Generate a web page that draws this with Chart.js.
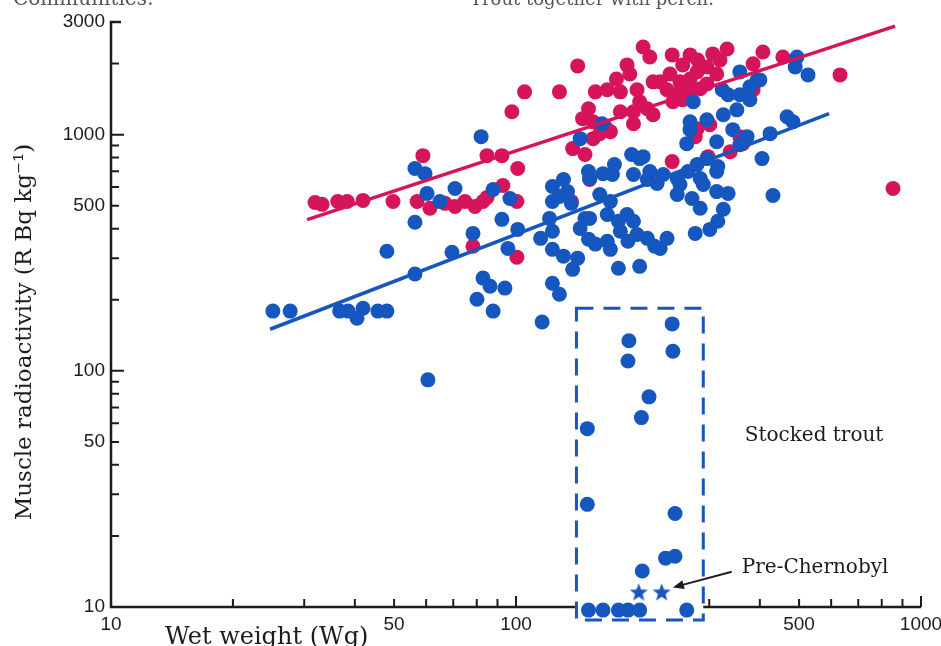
<!DOCTYPE html>
<html>
<head>
<meta charset="utf-8">
<script src="https://cdn.jsdelivr.net/npm/chart.js@4.4.1/dist/chart.umd.min.js"></script>
<style>
  body { margin: 0; background: #fff; }
  canvas { display: block; }
</style>
</head>
<body>
<canvas id="radioChart" width="941" height="646"></canvas>
<script>
// wet weight (g) / muscle radioactivity (Bq/kg)

// char / trout communities (red)
const redWeight = [31.9, 33.2, 36.3, 38.3, 41.9, 49.7, 57, 61.3, 66.8, 70.7,
  74.8, 79.2, 82.9, 84.8, 92.8, 100.5, 58.9, 84.8, 92.3, 101,
  78.3, 100.5, 97.7, 105, 128, 142, 157, 168, 177, 188,
  191, 206, 214, 181, 199, 202, 218, 151, 146, 155,
  166, 171, 181, 195, 195, 218, 138, 148, 155, 161,
  152, 137, 243, 269, 281, 306, 332, 319, 296, 280,
  258, 269, 254, 240, 227, 236, 254, 269, 285, 296,
  313, 407, 456, 385, 244, 258, 211, 385, 301, 280,
  277, 357, 363, 338, 298, 243, 631, 853];
const redActivity = [516, 507, 521, 521, 527, 521, 521, 488, 512, 497,
  521, 497, 521, 542, 609, 521, 815, 815, 815, 719,
  337, 303, 1250, 1518, 1518, 1955, 1518, 1549, 1722, 1975,
  1808, 2350, 2134, 1518, 1549, 1378, 1674, 1288, 1169, 1135,
  1081, 1030, 1250, 1250, 1112, 1214, 873, 824, 962, 1010,
  646, 521, 2177, 2177, 2072, 2198, 2306, 2072, 1936, 1844,
  1975, 1722, 1674, 1808, 1674, 1549, 1518, 1549, 1565, 1641,
  1808, 2239, 2134, 1995, 1378, 1406, 1288, 1549, 1102, 1060,
  981, 981, 916, 847, 807, 769, 1791, 592];

// communities with perch (blue)
const blueWeight = [25.1, 27.7, 36.7, 38.5, 40.5, 41.9, 45.6, 48.0, 60.6, 48.0,
  56.3, 56.3, 56.3, 59.6, 60.3, 64.9, 70.7, 82.0, 87.8, 96.6,
  92.3, 78.3, 101, 69.5, 95.5, 115, 82.9, 86.3, 93.9, 80.1,
  87.8, 116, 123, 128, 123, 131, 138, 123, 131, 134,
  123, 121, 123, 144, 148, 151, 128, 142, 161, 171,
  168, 152, 151, 157, 168, 171, 179, 188, 195, 181,
  189, 199, 211, 220, 179, 202, 164, 173, 195, 211,
  223, 137, 231, 254, 285, 290, 313, 250, 272, 285,
  313, 334, 325, 315, 301, 277, 227, 236, 431, 494,
  489, 357, 394, 378, 323, 334, 357, 378, 274, 351,
  325, 269, 296, 269, 264, 313, 343, 372, 424, 467,
  483, 405, 357, 296, 315, 280, 266, 206, 214, 250,
  526, 400, 163, 144, 152, 193, 202, 175];
const blueActivity = [179, 179, 179, 179, 167, 184, 179, 179, 91.6, 321,
  257, 426, 719, 684, 564, 521, 592, 981, 586, 537,
  438, 382, 397, 318, 330, 364, 247, 228, 224, 201,
  179, 161, 235, 211, 327, 306, 269, 604, 646, 574,
  521, 442, 390, 401, 442, 698, 547, 300, 558, 521,
  459, 442, 361, 344, 354, 327, 430, 459, 430, 390,
  354, 378, 364, 337, 272, 277, 684, 678, 678, 646,
  621, 512, 678, 615, 652, 615, 698, 558, 537, 488,
  574, 564, 483, 430, 397, 382, 330, 364, 553, 2134,
  1936, 1844, 1706, 1595, 1549, 1476, 1476, 1406, 1378, 1274,
  1214, 1135, 1157, 1050, 916, 934, 1050, 981, 1010, 1191,
  1135, 792, 907, 792, 733, 747, 698, 807, 698, 652,
  1791, 1706, 1112, 962, 652, 824, 792, 747];

// stocked trout (inside dashed box)
const stockedWeight = [243, 190, 189, 244, 213, 204, 150, 150, 247, 234, 247, 205, 151, 164, 179, 189, 202, 264];
const stockedActivity = [158, 134, 110, 121, 77.6, 63.4, 56.9, 27.2, 24.9, 16.1, 16.4, 14.2, 9.7, 9.7, 9.7, 9.7, 9.7, 9.7];
const preChernobylWeight = [201, 229];
const preChernobylActivity = [11.6, 11.6];
const stockedBoxWeight = [141, 290];
const stockedBoxActivity = [8.8, 184];

// regression lines (end points)
const redFitWeight = [30.5, 863];
const redFitActivity = [437, 2884];
const blueFitWeight = [24.7, 593];
const blueFitActivity = [150, 1227];

// axes
const xMajorTicks = [10, 50, 100, 500, 1000];
const xAllTicks = [10, 20, 30, 40, 50, 60, 70, 80, 90, 100, 200, 300, 400, 500, 600, 700, 800, 900, 1000];
const yMajorTicks = [10, 50, 100, 500, 1000, 3000];
const yAllTicks = [10, 20, 30, 40, 50, 60, 70, 80, 90, 100, 200, 300, 400, 500, 600, 700, 800, 900, 1000, 2000, 3000];

const RED = '#d5145b';
const BLUE = '#1556bf';
const INK = '#1c1c1c';

const pairs = (xs, ys) => xs.map((x, i) => ({ x: x, y: ys[i] }));

function starImage(color, size) {
  const c = document.createElement('canvas');
  c.width = c.height = size;
  const g = c.getContext('2d');
  g.fillStyle = color;
  g.beginPath();
  for (let i = 0; i < 10; i++) {
    const r = i % 2 ? size * 0.21 : size * 0.5;
    const a = -Math.PI / 2 + i * Math.PI / 5;
    const px = size / 2 + r * Math.cos(a);
    const py = size / 2 + 1 + r * Math.sin(a);
    if (i === 0) g.moveTo(px, py); else g.lineTo(px, py);
  }
  g.closePath();
  g.fill();
  return c;
}

const notes = [
  { text: 'Stocked trout', x: 367, y: 53 },
  { text: 'Pre-Chernobyl', x: 361, y: 14.6 }
];
const arrowFrom = { x: 341, y: 14.1 };
const arrowTo = { x: 244, y: 12.1 };

const frame = {
  id: 'frame',
  beforeDatasetsDraw(chart) {
    const ctx = chart.ctx;
    const xs = chart.scales.x, ys = chart.scales.y;
    const x0 = xs.getPixelForValue(10);
    const x1 = xs.getPixelForValue(1000);
    const y0 = ys.getPixelForValue(10);
    const yTop = ys.getPixelForValue(3000);
    const bx0 = xs.getPixelForValue(stockedBoxWeight[0]);
    const bx1 = xs.getPixelForValue(stockedBoxWeight[1]);
    ctx.save();
    ctx.strokeStyle = INK;
    ctx.lineWidth = 2.5;
    ctx.lineCap = 'butt';
    ctx.beginPath();
    ctx.moveTo(x0 + 10, yTop);
    ctx.lineTo(x0, yTop);
    ctx.lineTo(x0, y0);
    ctx.lineTo(bx0, y0);
    ctx.moveTo(bx1, y0);
    ctx.lineTo(x1, y0);
    ctx.stroke();

    ctx.lineWidth = 2;
    ctx.beginPath();
    yAllTicks.forEach(v => {
      if (v === 10 || v === 3000) return;
      const y = ys.getPixelForValue(v);
      const len = (v === 100 || v === 1000) ? 13 : 8;
      ctx.moveTo(x0, y);
      ctx.lineTo(x0 + len, y);
    });
    xAllTicks.forEach(v => {
      if (v === 10 || (v > stockedBoxWeight[0] && v < stockedBoxWeight[1])) return;
      const x = xs.getPixelForValue(v);
      const len = (v === 100 || v === 1000) ? 11 : 8;
      ctx.moveTo(x, y0);
      ctx.lineTo(x, y0 - len);
    });
    ctx.stroke();

    // dashed box round the stocked trout
    const by0 = ys.getPixelForValue(stockedBoxActivity[1]);
    const by1 = ys.getPixelForValue(stockedBoxActivity[0]);
    ctx.strokeStyle = BLUE;
    ctx.lineWidth = 3;
    ctx.setLineDash([17, 10]);
    ctx.strokeRect(bx0, by0, bx1 - bx0, by1 - by0);
    ctx.restore();
  },
  afterDraw(chart) {
    const ctx = chart.ctx;
    const xs = chart.scales.x, ys = chart.scales.y;
    ctx.save();
    ctx.fillStyle = INK;
    ctx.font = '20px "DejaVu Serif"';
    ctx.textBaseline = 'middle';
    ctx.textAlign = 'left';
    notes.forEach(n => {
      ctx.fillText(n.text, xs.getPixelForValue(n.x), ys.getPixelForValue(n.y));
    });

    // arrow to the pre-Chernobyl stars
    const ax0 = xs.getPixelForValue(arrowFrom.x), ay0 = ys.getPixelForValue(arrowFrom.y);
    const ax1 = xs.getPixelForValue(arrowTo.x), ay1 = ys.getPixelForValue(arrowTo.y);
    const ang = Math.atan2(ay1 - ay0, ax1 - ax0);
    ctx.strokeStyle = INK;
    ctx.lineWidth = 2;
    ctx.beginPath();
    ctx.moveTo(ax0, ay0);
    ctx.lineTo(ax1 - 8 * Math.cos(ang), ay1 - 8 * Math.sin(ang));
    ctx.stroke();
    ctx.beginPath();
    ctx.moveTo(ax1, ay1);
    ctx.lineTo(ax1 - 11 * Math.cos(ang) + 4.5 * Math.sin(ang), ay1 - 11 * Math.sin(ang) - 4.5 * Math.cos(ang));
    ctx.lineTo(ax1 - 11 * Math.cos(ang) - 4.5 * Math.sin(ang), ay1 - 11 * Math.sin(ang) + 4.5 * Math.cos(ang));
    ctx.closePath();
    ctx.fill();

    // axis titles
    ctx.font = '24px "DejaVu Serif"';
    ctx.textBaseline = 'alphabetic';
    ctx.fillText('Wet weight (Wg)', 165, 644);
    ctx.save();
    ctx.translate(31, 332);
    ctx.rotate(-Math.PI / 2);
    ctx.textAlign = 'center';
    ctx.font = '23px "DejaVu Serif"';
    ctx.fillText('Muscle radioactivity (R Bq kg\u207B\u00B9)', 0, 0);
    ctx.restore();

    // cut-off captions from above the plot
    ctx.fillStyle = '#555';
    ctx.font = '20px "DejaVu Serif"';
    ctx.fillText('Communities:', 13, 5);
    ctx.font = '18px "DejaVu Serif"';
    ctx.fillText('Trout together with perch.', 470, 5);
    ctx.restore();
  }
};

const tickFont = { family: '"Liberation Sans", Arial, sans-serif', size: 19 };

new Chart(document.getElementById('radioChart'), {
  type: 'scatter',
  data: {
    datasets: [
      {
        label: 'Regression (perch)',
        data: pairs(blueFitWeight, blueFitActivity),
        showLine: true, borderColor: BLUE, borderWidth: 3.5, pointRadius: 0, order: 1, clip: false
      },
      {
        label: 'Regression (no perch)',
        data: pairs(redFitWeight, redFitActivity),
        showLine: true, borderColor: RED, borderWidth: 3.5, pointRadius: 0, order: 2, clip: false
      },
      {
        label: 'Pre-Chernobyl',
        data: pairs(preChernobylWeight, preChernobylActivity),
        pointStyle: starImage(BLUE, 19), order: 3, clip: false
      },
      {
        label: 'Stocked trout',
        data: pairs(stockedWeight, stockedActivity),
        backgroundColor: BLUE, borderWidth: 0, pointRadius: 7.5, order: 4, clip: false
      },
      {
        label: 'With perch',
        data: pairs(blueWeight, blueActivity),
        backgroundColor: BLUE, borderWidth: 0, pointRadius: 7.5, order: 5, clip: false
      },
      {
        label: 'Without perch',
        data: pairs(redWeight, redActivity),
        backgroundColor: RED, borderWidth: 0, pointRadius: 7.5, order: 6, clip: false
      }
    ]
  },
  options: {
    responsive: false,
    devicePixelRatio: 1,
    animation: false,
    layout: { padding: { left: 0, top: 22, right: 20, bottom: 0 } },
    plugins: { legend: { display: false }, tooltip: { enabled: false } },
    scales: {
      x: {
        type: 'logarithmic',
        min: 10,
        max: 1000,
        afterFit: s => { s.height = 39; s.paddingLeft = 0; s.paddingRight = 0; },
        afterBuildTicks: s => { s.ticks = xAllTicks.map(v => ({ value: v })); },
        grid: { display: false, drawTicks: false },
        border: { display: false },
        ticks: {
          autoSkip: false,
          maxRotation: 0,
          padding: 6,
          color: INK,
          font: tickFont,
          callback: v => xMajorTicks.includes(v) ? String(v) : ''
        }
      },
      y: {
        type: 'logarithmic',
        min: 10,
        max: 3000,
        afterFit: s => { s.width = 111; s.paddingTop = 0; s.paddingBottom = 0; },
        afterBuildTicks: s => { s.ticks = yAllTicks.map(v => ({ value: v })); },
        grid: { display: false, drawTicks: false },
        border: { display: false },
        ticks: {
          autoSkip: false,
          padding: 6,
          color: INK,
          font: tickFont,
          callback: v => yMajorTicks.includes(v) ? String(v) : ''
        }
      }
    }
  },
  plugins: [frame]
});
</script>
</body>
</html>
